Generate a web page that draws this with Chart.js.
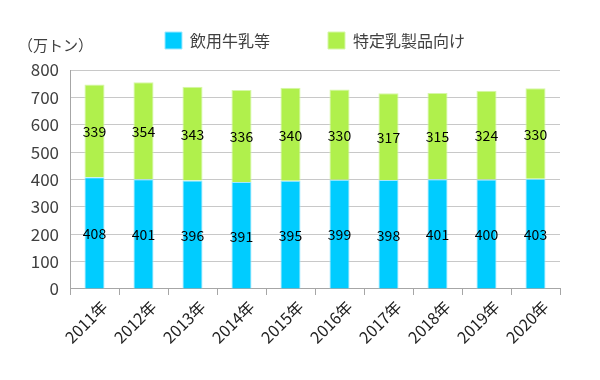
<!DOCTYPE html>
<html>
<head>
<meta charset="utf-8">
<script src="https://cdn.jsdelivr.net/npm/chart.js@4/dist/chart.umd.min.js"></script>
<style>
  html, body { margin: 0; padding: 0; background: #fff; }
  #wrap { width: 600px; height: 380px; }
</style>
</head>
<body>
<div id="wrap"><canvas id="chart" width="600" height="380"></canvas></div>
<script>
// データ
const years = ['2011年', '2012年', '2013年', '2014年', '2015年', '2016年', '2017年', '2018年', '2019年', '2020年'];
const drinkMilk = [408, 401, 396, 391, 395, 399, 398, 401, 400, 403];
const dairyProducts = [339, 354, 343, 336, 340, 330, 317, 315, 324, 330];
const unitLabel = '（万トン）';

const fontFamily = '"Noto Sans CJK JP", "Noto Sans", sans-serif';
const textColor = '#404040';
const legendPad = 58;

// 棒の中央に値を描く
const valueLabels = {
    id: 'valueLabels',
    afterDatasetsDraw(chart) {
        const ctx = chart.ctx;
        ctx.save();
        ctx.font = '14px ' + fontFamily;
        ctx.fillStyle = '#000';
        ctx.textAlign = 'center';
        ctx.textBaseline = 'middle';
        chart.data.datasets.forEach((ds, i) => {
            chart.getDatasetMeta(i).data.forEach((bar, j) => {
                const mid = (bar.y + bar.base) / 2;
                ctx.fillText(ds.data[j], bar.x, mid + 1);
            });
        });
        ctx.restore();
    }
};

// 単位ラベル + 凡例の位置合わせ
const unitText = {
    id: 'unitText',
    afterLayout(chart) {
        const lg = chart.legend;
        const h = lg.bottom - lg.top;
        lg.top = 32 - legendPad;
        lg.bottom = lg.top + h;
    },
    afterDraw(chart) {
        const ctx = chart.ctx;
        ctx.save();
        ctx.font = '15px ' + fontFamily;
        ctx.fillStyle = textColor;
        ctx.textAlign = 'left';
        ctx.textBaseline = 'middle';
        ctx.fillText(unitLabel, 18, 45);
        ctx.restore();
    }
};

new Chart(document.getElementById('chart'), {
    type: 'bar',
    data: {
        labels: years,
        datasets: [
            {
                label: '飲用牛乳等',
                data: drinkMilk,
                backgroundColor: '#00CCFF',
                borderColor: '#9FE8FF',
                borderWidth: 1,
                barPercentage: 0.41,
                categoryPercentage: 1
            },
            {
                label: '特定乳製品向け',
                data: dairyProducts,
                backgroundColor: '#B0F04C',
                borderColor: '#D6F7A8',
                borderWidth: 1,
                barPercentage: 0.41,
                categoryPercentage: 1
            }
        ]
    },
    options: {
        responsive: false,
        animation: false,
        layout: { padding: { left: 0, right: 40, top: -26, bottom: 31 } },
        plugins: {
            legend: {
                position: 'top',
                fullSize: false,
                labels: {
                    boxWidth: 17,
                    boxHeight: 17,
                    padding: legendPad,
                    color: textColor,
                    font: { family: fontFamily, size: 16 }
                }
            },
            tooltip: { enabled: false }
        },
        scales: {
            x: {
                stacked: true,
                offset: true,
                grid: {
                    offset: true,
                    drawOnChartArea: true,
                    color: (c) => (c.index === 0 || c.index === years.length) ? '#A6A6A6' : 'rgba(0,0,0,0)',
                    tickColor: '#A6A6A6',
                    tickLength: 6
                },
                border: { color: '#A6A6A6' },
                ticks: {
                    color: '#202020',
                    font: { family: fontFamily, size: 16 },
                    minRotation: 45,
                    maxRotation: 45,
                    labelOffset: 10,
                    padding: 2
                }
            },
            y: {
                stacked: true,
                min: 0,
                max: 800,
                afterFit(scale) {
                    scale.width = 70;
                    scale.paddingTop = 70; // グラフ上端を y=70 に
                },
                grid: {
                    color: '#C8C8C8',
                    drawTicks: false
                },
                border: { color: '#A6A6A6' },
                ticks: {
                    stepSize: 100,
                    color: textColor,
                    padding: 11,
                    font: { family: fontFamily, size: 17 }
                }
            }
        }
    },
    plugins: [valueLabels, unitText]
});
</script>
</body>
</html>
